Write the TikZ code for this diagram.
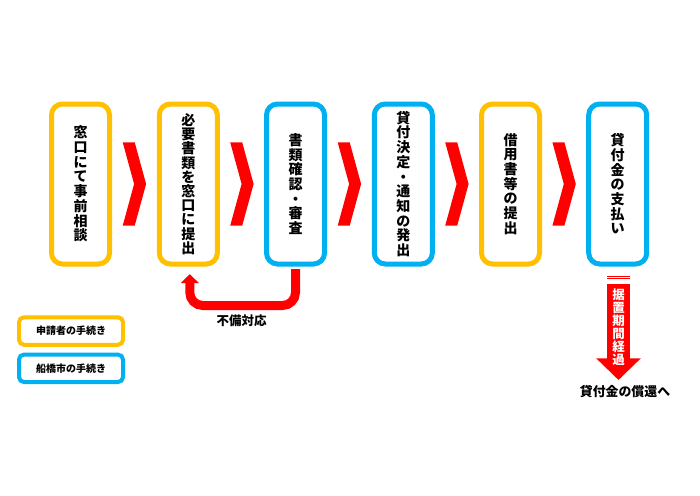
\documentclass[tikz,border=0pt]{standalone}
\usepackage{fontspec}
\setmainfont{Noto Sans CJK JP}
\usetikzlibrary{arrows.meta,calc}
\definecolor{ora}{HTML}{FFC000}
\definecolor{blu}{HTML}{00B0F0}
\definecolor{rd}{HTML}{FF0000}
\begin{document}
\begin{tikzpicture}[x=1pt,y=-1pt,
  stepbox/.style={draw, line width=5pt, rounded corners=11pt, minimum width=58pt,
    minimum height=160pt, align=center, inner sep=0pt, fill=white,
    font=\bfseries\fontsize{14}{14.7}\selectfont},
  appl/.style={stepbox, draw=ora},
  city/.style={stepbox, draw=blu},
  legbox/.style={draw, line width=4pt, rounded corners=5pt, minimum width=104pt,
    minimum height=27.5pt, inner sep=0pt, font=\bfseries\fontsize{10}{10}\selectfont},
  lbl/.style={font=\bfseries\fontsize{12.5}{13}\selectfont, inner sep=0pt},
  chev/.style={fill=rd},
  fbarrow/.style={draw=rd, line width=9pt, rounded corners=13pt,
    -{Triangle[width=18pt,length=9pt]}},
  bigarrow/.style={draw=rd, line width=22.7pt, -{Triangle[width=43.3pt,length=21.7pt]}},
]
\useasboundingbox (0,0) rectangle (700,495);
\fill[white] (0,0) rectangle (700,495);

\node[appl] (b1) at (80.5,184) {窓\\口\\に\\て\\事\\前\\相\\談};
\node[appl, font=\bfseries\fontsize{14}{14.2}\selectfont] (b2) at (188.3,184) {必\\要\\書\\類\\を\\窓\\口\\に\\提\\出};
\node[city] (b3) at (295.5,184) {書\\類\\確\\認\\・\\審\\査};
\node[city] (b4) at (403.3,184) {貸\\付\\決\\定\\・\\通\\知\\の\\発\\出};
\node[appl] (b5) at (510.5,184) {借\\用\\書\\等\\の\\提\\出};
\node[city] (b6) at (617.7,184) {貸\\付\\金\\の\\支\\払\\い};

\foreach \a/\b in {b1/b2,b2/b3,b3/b4,b4/b5,b5/b6}{
  \fill[chev] ($(\a.east)!0.5!(\b.west)$) ++(-11.7,-41.7) -- ++(12,0) -- ++(11.4,41.7)
    -- ++(-11.4,41.7) -- ++(-12,0) -- ++(11.4,-41.7) -- cycle;
}

\draw[fbarrow] ([yshift=-2.5pt]b3.south) -- ++(0,36.5) -| ([xshift=1.5pt,yshift=-7.7pt]b2.south);
\node[lbl] (fb) at (241.7,321) {不備対応};

\node[legbox, draw=ora] (l1) at (71,331) {申請者の手続き};
\node[legbox, draw=blu] (l2) at (71,368.3) {船橋市の手続き};

\node[lbl, font=\bfseries\fontsize{12.9}{13}\selectfont] (rep) at (625,392) {貸付金の償還へ};
\coordinate (atip) at (618.5,380);
\draw[bigarrow] ([xshift=0.8pt,yshift=-17.3pt]b6.south) -- (atip);
\foreach \yy in {276.5,278.9}
  \draw[rd, line width=1.1pt] (607.2,\yy) -- (629.8,\yy);
\node[font=\bfseries\fontsize{12.5}{13.1}\selectfont, text=white, align=center, inner sep=0pt]
  (sk) at (618.5,327) {据\\置\\期\\間\\経\\過};
\end{tikzpicture}
\end{document}
